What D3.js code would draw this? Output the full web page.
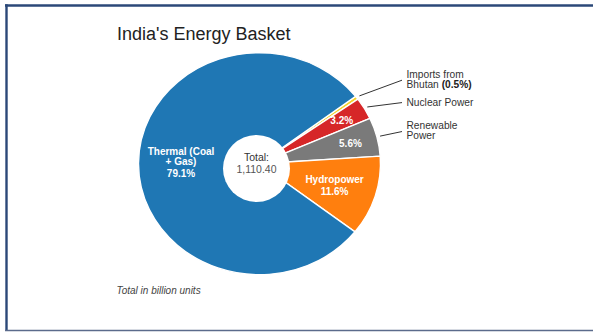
<!DOCTYPE html>
<html>
<head>
<meta charset="utf-8">
<script src="https://cdn.jsdelivr.net/npm/d3@7/dist/d3.min.js"></script>
<style>
  html, body { margin: 0; padding: 0; background: #fff; }
  svg { display: block; font-family: "Liberation Sans", Arial, sans-serif; }
</style>
</head>
<body>
<svg id="chart" width="593" height="332"></svg>
<script>
// ---- data ----
const categories = ["Imports from Bhutan", "Nuclear Power", "Renewable Power", "Hydropower", "Thermal (Coal + Gas)"];
const values = [5.6, 35.5, 62.2, 128.8, 878.3];   // billion units
const colors = ["#f3d32c", "#d62728", "#7a7a7a", "#ff7f0e", "#1f77b4"];
const title = "India's Energy Basket";
const note = "Total in billion units";

// ---- layout ----
const W = 593, H = 332;
const cx = 259.5, cy = 163.7, R = 111, sx = 1.09;
const startDeg = 52.6;

const svg = d3.select("#chart");
svg.append("rect").attr("width", W).attr("height", H).attr("fill", "#fff");

// frame
svg.append("line").attr("x1", 5).attr("x2", W).attr("y1", 5.5).attr("y2", 5.5)
  .attr("stroke", "#2b4878").attr("stroke-width", 2.4);
svg.append("line").attr("x1", 6.5).attr("x2", 6.5).attr("y1", 4.3).attr("y2", 331)
  .attr("stroke", "#2b4878").attr("stroke-width", 2.4);
svg.append("line").attr("x1", 5).attr("x2", W).attr("y1", 330.5).attr("y2", 330.5)
  .attr("stroke", "#5b6b8c").attr("stroke-width", 1.5);

// title
svg.append("text").attr("x", 117).attr("y", 39.5).attr("font-size", 18)
  .attr("fill", "#222").text(title);

const total = d3.sum(values);
const pct = d3.format(".1%");
const data = categories.map((c, i) => ({ name: c, value: values[i], color: colors[i] }));

const a0 = startDeg * Math.PI / 180;
const pie = d3.pie().value(d => d.value).sort(null).startAngle(a0).endAngle(a0 + 2 * Math.PI);
const arcs = pie(data);
const arc = d3.arc().innerRadius(0).outerRadius(R);

const gPie = svg.append("g").attr("transform", `translate(${cx},${cy}) scale(${sx},1)`);
gPie.selectAll("path").data(arcs).join("path")
  .attr("d", arc)
  .attr("fill", d => d.data.color)
  .attr("stroke", "#fff")
  .attr("stroke-width", 1.4)
  .attr("vector-effect", "non-scaling-stroke");

// center hole
svg.append("circle").attr("cx", 256.5).attr("cy", 168.5).attr("r", 33.5).attr("fill", "#fff");
svg.append("text").attr("x", 256.5).attr("y", 160.5).attr("text-anchor", "middle")
  .attr("font-size", 10.5).attr("fill", "#333").text("Total:");
svg.append("text").attr("x", 256.5).attr("y", 172.8).attr("text-anchor", "middle")
  .attr("font-size", 10.5).attr("fill", "#555").text(d3.format(",.2f")(total));

// helper: point on (stretched) arc
function pt(d, r) {
  const c = d3.arc().innerRadius(r).outerRadius(r).centroid(d);
  return [cx + c[0] * sx, cy + c[1]];
}

// inner labels
const inner = [
  { i: 4, r: 72, lines: ["Thermal (Coal", "+ Gas)"], dys: [-8, 2, 14] },
  { i: 3, r: 72, lines: ["Hydropower"], dys: [-2, 10] },
  { i: 2, r: 86, lines: [], dys: [3.6] },
  { i: 1, r: 87, lines: [], dys: [3.6] }
];
inner.forEach(L => {
  const d = arcs[L.i];
  const p = pt(d, L.r);
  const lines = L.lines.concat([pct(d.data.value / total)]);
  lines.forEach((t, k) => {
    svg.append("text").attr("x", p[0]).attr("y", p[1] + L.dys[k])
      .attr("text-anchor", "middle").attr("font-size", 10).attr("font-weight", "bold")
      .attr("fill", "#fff").text(t);
  });
});

// outside labels with leader lines
const outside = [
  { i: 0, rise: 15.7, lines: [["Imports from"], ["Bhutan ", "PCT"]] },
  { i: 1, rise: 4.4, lines: [["Nuclear Power"]] },
  { i: 2, rise: 4.6, lines: [["Renewable"], ["Power"]] }
];
const endX = 402, textX = 406.5;
outside.forEach(L => {
  const d = arcs[L.i];
  const s = pt(d, 114);
  const ey = s[1] - L.rise;
  svg.append("line").attr("x1", s[0]).attr("y1", s[1]).attr("x2", endX).attr("y2", ey)
    .attr("stroke", "#333").attr("stroke-width", 1);
  const n = L.lines.length;
  L.lines.forEach((parts, k) => {
    const y = n === 1 ? ey + 3.6 : ey - 2.5 + k * 10;
    const t = svg.append("text").attr("x", textX).attr("y", y)
      .attr("font-size", 10.2).attr("fill", "#333");
    parts.forEach(p => {
      if (p === "PCT") {
        t.append("tspan").attr("font-weight", "bold").attr("fill", "#222")
          .text("(" + pct(d.data.value / total) + ")");
      } else {
        t.append("tspan").text(p);
      }
    });
  });
});

// note
svg.append("text").attr("x", 116.5).attr("y", 293.5).attr("font-size", 10)
  .attr("font-style", "italic").attr("fill", "#444").text(note);
</script>
</body>
</html>
